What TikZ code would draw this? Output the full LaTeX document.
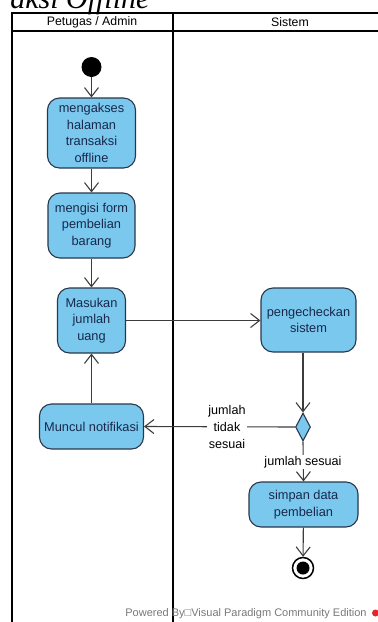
\documentclass[tikz,border=0pt]{standalone}
\usepackage{fontspec}
\setmainfont{Liberation Sans}
\newfontfamily\headserif{Liberation Serif}
\usetikzlibrary{arrows.meta,shapes.geometric}
\definecolor{actfill}{RGB}{122,200,238}
\definecolor{actline}{RGB}{40,55,75}
\definecolor{acttext}{RGB}{25,40,75}
\definecolor{flowline}{RGB}{60,60,60}
\definecolor{vpgray}{RGB}{120,120,120}
\definecolor{vpred}{RGB}{225,40,40}
\begin{document}
\begin{tikzpicture}[x=1pt,y=-1pt,
  activity/.style={draw=actline, fill=actfill, line width=1.1pt, rectangle,
    rounded corners=12pt, align=center, text=acttext, inner sep=2pt,
    font=\fontsize{12.8}{16.7}\selectfont},
  flow/.style={draw=flowline, line width=1.1pt,
    -{Straight Barb[length=9pt,width=14pt,line width=1.1pt]}},
  lane/.style={draw=black, line width=2pt},
  guard/.style={fill=white, align=center, text=black, inner sep=1.5pt,
    font=\fontsize{12.6}{16.7}\selectfont},
  lanehead/.style={font=\fontsize{12.3}{14}\selectfont, text=black}]
\useasboundingbox (0,0) rectangle (378,622);

% heading of the page above the diagram
\node[anchor=base east, font=\headserif\itshape\fontsize{30}{30}\selectfont]
  (heading) at (153,8) {aksi Offline};

% swimlane frame
\draw[lane] (12,622) -- (12,13) -- (380,13);
\draw[lane] (12,31) -- (380,31);
\draw[draw=black, line width=2.6pt] (173,13) -- (173,622);
\node[lanehead] (laneA) at (92,22) {Petugas / Admin};
\node[lanehead] (laneB) at (290,22) {Sistem};

% activities
\node[circle, fill=black, minimum size=20pt, inner sep=0pt] (start) at (91.5,67) {};
\node[activity, minimum width=88pt, minimum height=70pt] (b1) at (91.5,133)
  {mengakses\\halaman\\transaksi\\offline};
\node[activity, minimum width=87pt, minimum height=65pt] (b2) at (91.5,225.5)
  {mengisi form\\pembelian\\barang};
\node[activity, minimum width=68pt, minimum height=65pt] (b3) at (91.5,320.5)
  {Masukan\\jumlah\\uang};
\node[activity, minimum width=104pt, minimum height=45pt] (b4) at (91.5,426.5)
  {Muncul notifikasi};
\node[activity, minimum width=95pt, minimum height=64pt] (b5) at (308.5,320)
  {pengecheckan\\sistem};
\node[diamond, draw=actline, fill=actfill, line width=1.1pt, inner sep=0pt,
  minimum width=15pt, minimum height=28pt] (dia) at (303,427) {};
\node[activity, minimum width=109pt, minimum height=45pt] (b6) at (303.5,504.5)
  {simpan data\\pembelian};
\node[circle, draw=black, line width=1.5pt, minimum size=21pt, inner sep=0pt]
  (finish) at (303,568) {};
\node[circle, fill=black, minimum size=13pt, inner sep=0pt] (finishdot) at (finish) {};

% control flows
\draw[flow] (start) -- (b1);
\draw[flow] (b1) -- (b2);
\draw[flow] (b2) -- (b3);
\draw[flow] (b4) -- (b3);
\draw[flow] (b3.east) -- (b3.east -| b5.west);
\draw[flow] (b5.south -| dia.north) -- (dia.north);
\draw[flow] (dia.west) -- (b4.east);
\draw[flow] (dia.south) -- (b6.north);
\draw[flow] (b6) -- (finish);

% guards
\node[guard] (notok) at (227,427) {jumlah\\tidak\\sesuai};
\node[guard, inner sep=1pt] (ok) at (303,462) {jumlah sesuai};

% tool footer
\node[text=vpgray, font=\fontsize{11}{13}\selectfont] (powered) at (246,614)
  {Powered By□Visual Paradigm Community Edition};
\fill[vpred] (375.5,613) circle (3.5pt);
\end{tikzpicture}
\end{document}
